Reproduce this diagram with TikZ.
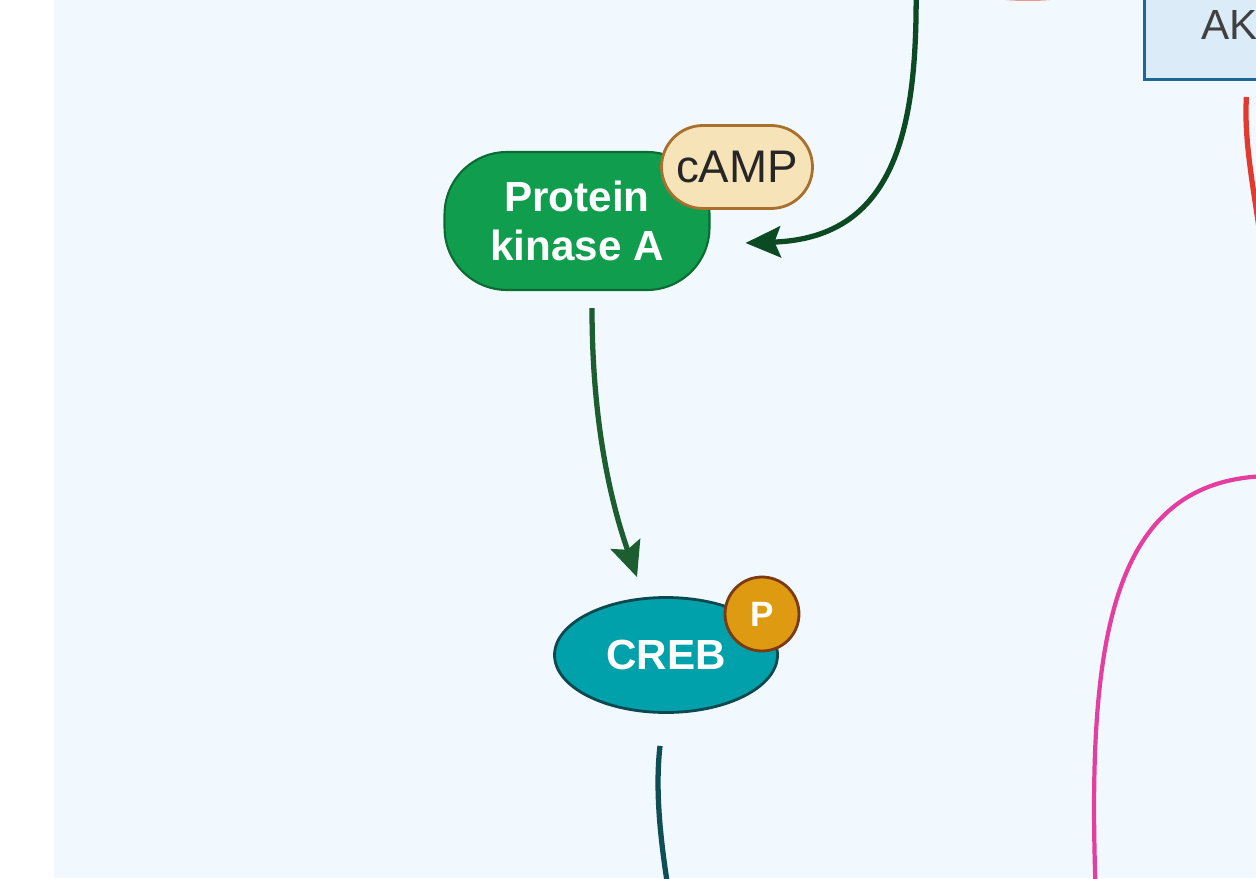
\documentclass[tikz,border=0pt]{standalone}
\usepackage{fontspec}
\setmainfont{Liberation Sans}
\usepackage{tikz}
\usetikzlibrary{positioning, arrows.meta, shapes.geometric, calc}
\definecolor{bgBlue}{HTML}{F1F8FE}
\definecolor{aktFill}{HTML}{DCEBF8}
\definecolor{aktLine}{HTML}{1D6797}
\definecolor{pkaFill}{HTML}{109D4E}
\definecolor{pkaLine}{HTML}{0A6B33}
\definecolor{campFill}{HTML}{F7E3B8}
\definecolor{campLine}{HTML}{A8702C}
\definecolor{crebFill}{HTML}{00A1AA}
\definecolor{crebLine}{HTML}{0D4A50}
\definecolor{phosFill}{HTML}{DE9A10}
\definecolor{phosLine}{HTML}{7B3A12}
\definecolor{mDkGreen}{HTML}{0B4A22}
\definecolor{mGreen}{HTML}{1C5E30}
\definecolor{mTeal}{HTML}{0E4E55}
\definecolor{mRed}{HTML}{E23A2E}
\definecolor{mPink}{HTML}{E43FA0}

\begin{document}
\begin{tikzpicture}[
  x=0.02cm, y=-0.02cm,
  protein/.style={draw=pkaLine, fill=pkaFill, line width=1.2pt, rounded corners=1.25cm,
                  minimum width=5.3cm, minimum height=2.76cm, align=center, text=white,
                  font=\fontsize{24}{28}\selectfont\bfseries},
  ligand/.style={draw=campLine, fill=campFill, line width=1.6pt, rounded corners=0.83cm,
                 minimum width=3.02cm, minimum height=1.66cm, text=black!85,
                 font=\fontsize{26}{30}\selectfont},
  factor/.style={ellipse, draw=crebLine, fill=crebFill, line width=1.6pt,
                 minimum width=4.46cm, minimum height=2.3cm, text=white,
                 font=\fontsize{24}{28}\selectfont\bfseries},
  phos/.style={circle, draw=phosLine, fill=phosFill, line width=1.6pt,
               minimum size=1.48cm, inner sep=0pt, text=white,
               font=\fontsize{20}{24}\selectfont\bfseries},
  kinbox/.style={draw=aktLine, fill=aktFill, line width=1.6pt, anchor=south west,
                 inner xsep=1.14cm, inner ysep=0.8cm, text=black!75,
                 font=\fontsize{24}{28}\selectfont},
  link/.style={line width=3pt},
  tip/.style={-{Stealth[length=0.7cm, width=0.62cm, inset=0.12cm]}},
]
  \useasboundingbox (0,0) rectangle (1256,878);
  \clip (0,0) rectangle (1256,878);
  \fill[white] (0,0) rectangle (1256,878);
  \fill[bgBlue] (54,0) rectangle (1256,878);

  \node[ellipse, draw=mRed!80, line width=2pt, minimum width=4.6cm, minimum height=1.6cm]
    (upper) at (1028,-41) {};
  \node[kinbox] (akt) at (1143,81) {AKT};

  \node[protein] (pka) at (577,221) {Protein\\kinase A};
  \node[ligand] (camp) at (737,167) {cAMP};
  \node[factor] (creb) at (666,655) {CREB};
  \node[phos] (p) at (762,614) {P};

  \coordinate (fromTop) at (916,-20);
  \coordinate (redOut) at (1264,260);
  \coordinate (pinkIn) at (1270,476);
  \coordinate (pinkOut) at (1096,900);
  \coordinate (crebOut) at (670,900);

  \draw[link, mDkGreen, tip] (fromTop) .. controls (918,120) and (900,238) .. ([xshift=0.7cm, yshift=-0.44cm]pka.east);
  \draw[link, mGreen, tip] ([xshift=0.3cm, yshift=-0.34cm]pka.south) .. controls (592,420) and (610,500) .. ([xshift=-0.58cm, yshift=0.38cm]creb.north);
  \draw[link, mTeal] ([xshift=-0.12cm, yshift=-0.64cm]creb.south) .. controls (655,790) and (660,840) .. (crebOut);
  \draw[link, mRed] ([xshift=0.08cm, yshift=-0.32cm]akt.south) .. controls (1244,140) and (1252,180) .. (redOut);
  \draw[line width=2.4pt, mPink] (pinkIn) .. controls (1110,478) and (1086,640) .. (pinkOut);
\end{tikzpicture}
\end{document}
